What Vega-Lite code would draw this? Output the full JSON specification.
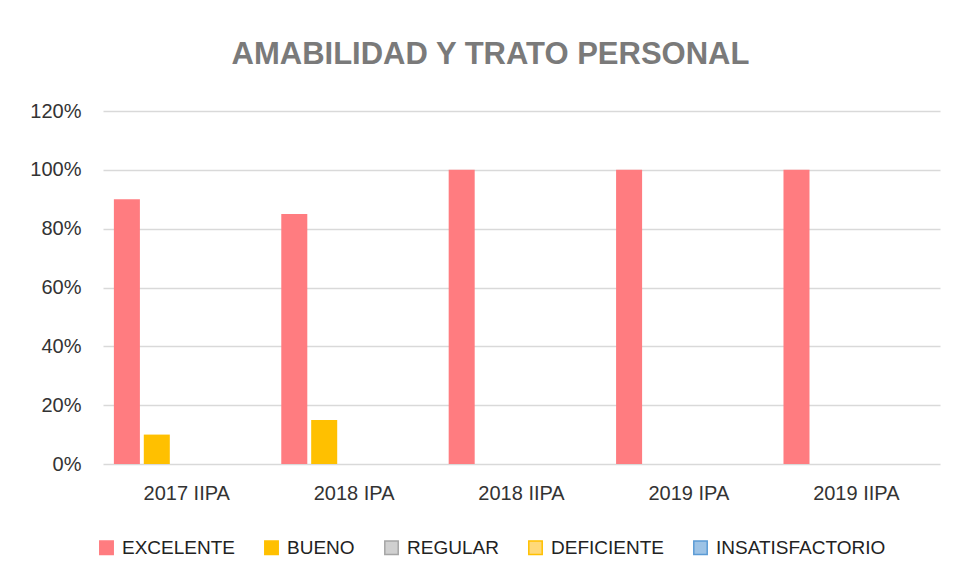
{
  "$schema": "https://vega.github.io/schema/vega-lite/v6.json",
  "width": 837,
  "height": 353,
  "autosize": "none",
  "padding": {"left": 103, "top": 111, "right": 18, "bottom": 118},
  "background": "white",
  "title": {
    "text": "AMABILIDAD Y TRATO PERSONAL",
    "font": "Liberation Sans",
    "fontSize": 31,
    "fontWeight": "bold",
    "color": "#7a7a7a",
    "anchor": "middle",
    "offset": 30,
    "dx": -31
  },
  "data": {
    "values": [
      {"periodo": "2017 IIPA", "nivel": "EXCELENTE", "valor": 0.9},
      {"periodo": "2017 IIPA", "nivel": "BUENO", "valor": 0.1},
      {"periodo": "2017 IIPA", "nivel": "REGULAR", "valor": 0},
      {"periodo": "2017 IIPA", "nivel": "DEFICIENTE", "valor": 0},
      {"periodo": "2017 IIPA", "nivel": "INSATISFACTORIO", "valor": 0},
      {"periodo": "2018 IPA", "nivel": "EXCELENTE", "valor": 0.85},
      {"periodo": "2018 IPA", "nivel": "BUENO", "valor": 0.15},
      {"periodo": "2018 IPA", "nivel": "REGULAR", "valor": 0},
      {"periodo": "2018 IPA", "nivel": "DEFICIENTE", "valor": 0},
      {"periodo": "2018 IPA", "nivel": "INSATISFACTORIO", "valor": 0},
      {"periodo": "2018 IIPA", "nivel": "EXCELENTE", "valor": 1},
      {"periodo": "2018 IIPA", "nivel": "BUENO", "valor": 0},
      {"periodo": "2018 IIPA", "nivel": "REGULAR", "valor": 0},
      {"periodo": "2018 IIPA", "nivel": "DEFICIENTE", "valor": 0},
      {"periodo": "2018 IIPA", "nivel": "INSATISFACTORIO", "valor": 0},
      {"periodo": "2019 IPA", "nivel": "EXCELENTE", "valor": 1},
      {"periodo": "2019 IPA", "nivel": "BUENO", "valor": 0},
      {"periodo": "2019 IPA", "nivel": "REGULAR", "valor": 0},
      {"periodo": "2019 IPA", "nivel": "DEFICIENTE", "valor": 0},
      {"periodo": "2019 IPA", "nivel": "INSATISFACTORIO", "valor": 0},
      {"periodo": "2019 IIPA", "nivel": "EXCELENTE", "valor": 1},
      {"periodo": "2019 IIPA", "nivel": "BUENO", "valor": 0},
      {"periodo": "2019 IIPA", "nivel": "REGULAR", "valor": 0},
      {"periodo": "2019 IIPA", "nivel": "DEFICIENTE", "valor": 0},
      {"periodo": "2019 IIPA", "nivel": "INSATISFACTORIO", "valor": 0}
    ]
  },
  "mark": {"type": "bar", "strokeWidth": 0},
  "encoding": {
    "x": {
      "field": "periodo",
      "type": "nominal",
      "sort": ["2017 IIPA", "2018 IPA", "2018 IIPA", "2019 IPA", "2019 IIPA"],
      "scale": {"paddingInner": 0.13, "paddingOuter": 0.065},
      "axis": {
        "title": null,
        "labelAngle": 0,
        "ticks": false,
        "domain": false,
        "labelPadding": 19,
        "labelFontSize": 20,
        "labelFont": "Liberation Sans",
        "labelColor": "#333333"
      }
    },
    "xOffset": {
      "field": "nivel",
      "type": "nominal",
      "sort": ["EXCELENTE", "BUENO", "REGULAR", "DEFICIENTE", "INSATISFACTORIO"],
      "scale": {"paddingInner": 0.13, "paddingOuter": 0}
    },
    "y": {
      "field": "valor",
      "type": "quantitative",
      "scale": {"domain": [0, 1.2], "nice": false},
      "axis": {
        "title": null,
        "format": ".0%",
        "values": [0, 0.2, 0.4, 0.6, 0.8, 1.0, 1.2],
        "domain": false,
        "ticks": false,
        "labelPadding": 22,
        "labelFontSize": 20,
        "labelFont": "Liberation Sans",
        "labelColor": "#333333",
        "gridColor": "#D9D9D9",
        "gridWidth": 1.3
      }
    },
    "fill": {
      "field": "nivel",
      "type": "nominal",
      "sort": ["EXCELENTE", "BUENO", "REGULAR", "DEFICIENTE", "INSATISFACTORIO"],
      "scale": {
        "domain": ["EXCELENTE", "BUENO", "REGULAR", "DEFICIENTE", "INSATISFACTORIO"],
        "range": ["#FF7C80", "#FFC000", "#D0D0D0", "#FFD97A", "#9DC3E6"]
      },
      "legend": {
        "title": null,
        "orient": "none",
        "direction": "horizontal",
        "legendX": -6,
        "legendY": 427,
        "symbolType": "square",
        "symbolSize": 180,
        "symbolStrokeWidth": 1.5,
        "labelFontSize": 19,
        "labelFont": "Liberation Sans",
        "labelColor": "#222222",
        "labelOffset": 6,
        "labelLimit": 400,
        "columnPadding": 26
      }
    },
    "stroke": {
      "field": "nivel",
      "type": "nominal",
      "sort": ["EXCELENTE", "BUENO", "REGULAR", "DEFICIENTE", "INSATISFACTORIO"],
      "scale": {
        "domain": ["EXCELENTE", "BUENO", "REGULAR", "DEFICIENTE", "INSATISFACTORIO"],
        "range": ["#FF7C80", "#FFC000", "#A5A5A5", "#FFC000", "#5B9BD5"]
      },
      "legend": {
        "title": null,
        "orient": "none",
        "direction": "horizontal",
        "legendX": -6,
        "legendY": 427,
        "symbolType": "square",
        "symbolSize": 180,
        "symbolStrokeWidth": 1.5,
        "labelFontSize": 19,
        "labelFont": "Liberation Sans",
        "labelColor": "#222222",
        "labelOffset": 6,
        "labelLimit": 400,
        "columnPadding": 26
      }
    }
  },
  "config": {
    "view": {"stroke": null}
  }
}
